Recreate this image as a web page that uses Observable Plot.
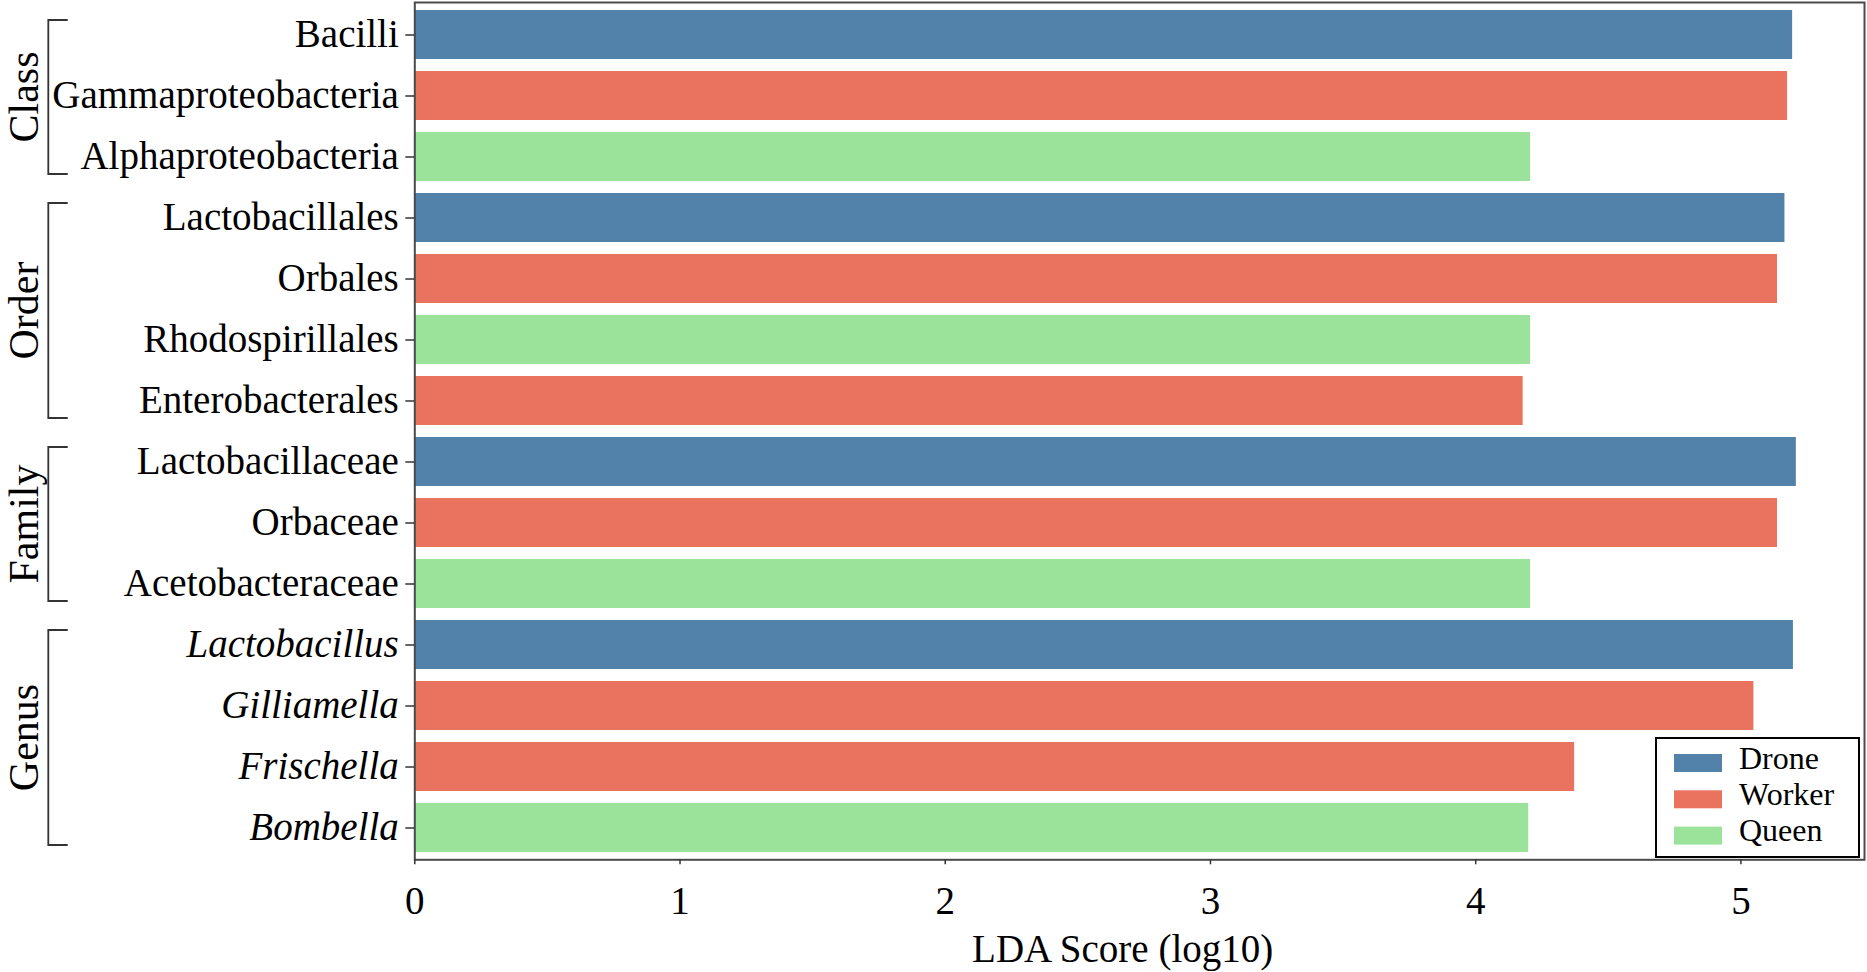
<!DOCTYPE html>
<html>
<head>
<meta charset="utf-8">
<script src="https://cdn.jsdelivr.net/npm/d3@7"></script>
<script src="https://cdn.jsdelivr.net/npm/@observablehq/plot@0.6"></script>
<style>
  html, body { margin: 0; padding: 0; background: #ffffff; }
  #chart { width: 1867px; height: 972px; overflow: hidden; }
  #chart svg { display: block; }
</style>
</head>
<body>
<div id="chart"></div>
<script>
// ---- data ----
const taxa = ["Bacilli", "Gammaproteobacteria", "Alphaproteobacteria",
  "Lactobacillales", "Orbales", "Rhodospirillales", "Enterobacterales",
  "Lactobacillaceae", "Orbaceae", "Acetobacteraceae",
  "Lactobacillus", "Gilliamella", "Frischella", "Bombella"];
const levels = ["Class", "Class", "Class",
  "Order", "Order", "Order", "Order",
  "Family", "Family", "Family",
  "Genus", "Genus", "Genus", "Genus"];
const groups = ["Drone", "Worker", "Queen",
  "Drone", "Worker", "Queen", "Worker",
  "Drone", "Worker", "Queen",
  "Drone", "Worker", "Worker", "Queen"];
const scores = [5.195, 5.176, 4.207,
  5.166, 5.138, 4.207, 4.179,
  5.209, 5.138, 4.207,
  5.198, 5.049, 4.373, 4.200];
const groupNames = ["Drone", "Worker", "Queen"];
const groupColors = ["#5281a9", "#e9735f", "#9be39b"];
const levelNames = ["Class", "Order", "Family", "Genus"];
const xTicks = [0, 1, 2, 3, 4, 5];
const xLabel = "LDA Score (log10)";

// ---- build ----
const data = taxa.map((t, i) => ({taxon: t, level: levels[i], group: groups[i], score: scores[i]}));
const plainTaxa = taxa.filter((t, i) => levels[i] !== "Genus");
const italicTaxa = taxa.filter((t, i) => levels[i] === "Genus");
const FONT = "'Liberation Serif', 'Times New Roman', Times, serif";

const chart = Plot.plot({
  width: 1867,
  height: 972,
  marginTop: 2,
  marginBottom: 112.7,
  marginLeft: 414.3,
  marginRight: 3,
  style: {fontFamily: FONT, background: "#ffffff", color: "#000"},
  x: {domain: [0, 5.466], axis: null},
  y: {domain: taxa, paddingInner: 0.2, paddingOuter: 0.09, axis: null},
  color: {domain: groupNames, range: groupColors},
  marks: [
    Plot.barX(data, {x: "score", y: "taxon", fill: "group"}),
    Plot.frame({stroke: "#4a4a4a", strokeWidth: 2}),
    Plot.axisX(xTicks, {tickSize: 5, tickPadding: 21, fontSize: 39, label: null, tickFormat: d3.format("d"), stroke: "#333", strokeWidth: 1.5}),
    Plot.axisY(plainTaxa, {tickSize: 9, tickPadding: 7, fontSize: 39, label: null, stroke: "#333", strokeWidth: 1.5}),
    Plot.axisY(italicTaxa, {tickSize: 9, tickPadding: 7, fontSize: 39, fontStyle: "italic", label: null, stroke: "#333", strokeWidth: 1.5}),
    Plot.text([xLabel], {text: d => d, frameAnchor: "bottom", lineAnchor: "bottom", dy: 102.4, dx: -17, fontSize: 39})
  ]
});

document.getElementById("chart").appendChild(chart);

// ---- group brackets and labels (positioned from the y band scale) ----
const svg = d3.select(chart);
const sy = chart.scale("y");
const bw = sy.bandwidth;
const br = svg.append("g").attr("class", "brackets");
levelNames.forEach(lv => {
  const members = taxa.filter((t, i) => levels[i] === lv);
  const top = sy.apply(members[0]) + 10;
  const bot = sy.apply(members[members.length - 1]) + bw - 7;
  br.append("path")
    .attr("d", `M67.7,${top}H48.3V${bot}H67.7`)
    .attr("fill", "none")
    .attr("stroke", "#333")
    .attr("stroke-width", 1.8);
  br.append("text")
    .attr("transform", `translate(38,${(top + bot) / 2}) rotate(-90)`)
    .attr("text-anchor", "middle")
    .attr("font-family", FONT)
    .attr("font-size", 42)
    .attr("fill", "#000")
    .text(lv);
});

// ---- legend ----
const lg = svg.append("g").attr("class", "legend");
lg.append("rect")
  .attr("x", 1656).attr("y", 738).attr("width", 203).attr("height", 119)
  .attr("fill", "#ffffff").attr("stroke", "#000").attr("stroke-width", 2);
groupNames.forEach((g, i) => {
  const cy = 763 + i * 36.3;
  lg.append("rect")
    .attr("x", 1674).attr("y", cy - 9).attr("width", 48).attr("height", 18)
    .attr("fill", groupColors[i]);
  lg.append("text")
    .attr("x", 1739).attr("y", cy + 5.5)
    .attr("text-anchor", "start")
    .attr("font-family", FONT).attr("font-size", 32).attr("fill", "#000")
    .text(g);
});
</script>
</body>
</html>
